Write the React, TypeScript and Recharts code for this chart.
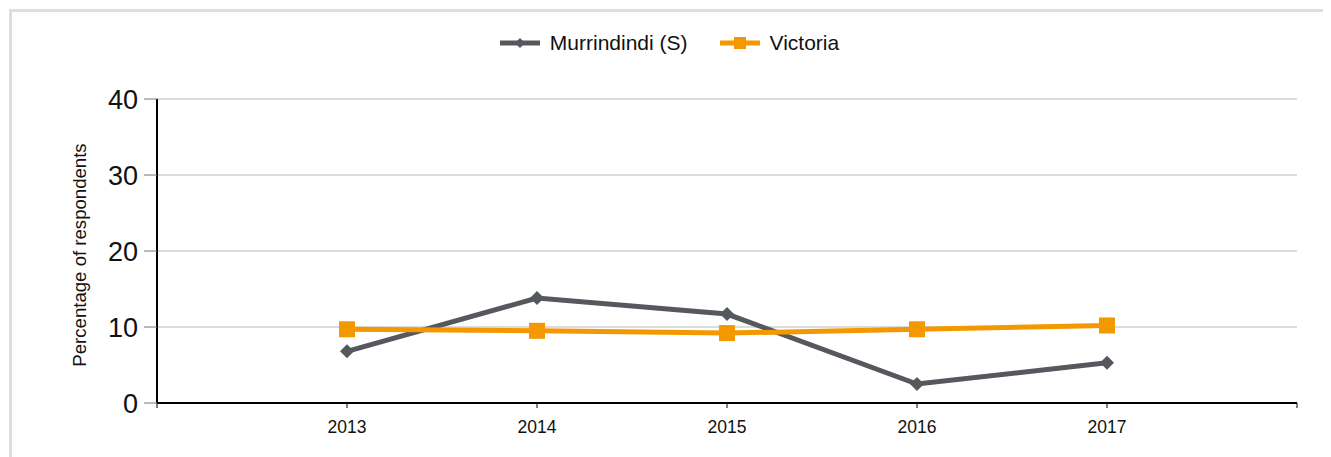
import { LineChart, Line, XAxis, YAxis, CartesianGrid, Legend } from 'recharts'

const years = [2013, 2014, 2015, 2016, 2017]
const murrindindi = [6.8, 13.8, 11.7, 2.5, 5.3]
const victoria = [9.7, 9.5, 9.2, 9.7, 10.2]
const yTicks = [0, 10, 20, 30, 40]
const xTicks = [2012, 2013, 2014, 2015, 2016, 2017, 2018]

const GREY = '#55585c'
const ORANGE = '#f39800'
const FONT = '"Liberation Sans", Arial, sans-serif'

const data = years.map((year, i) => ({
  year,
  murrindindi: murrindindi[i],
  victoria: victoria[i],
}))

const Diamond = (props: any) => {
  const { cx, cy, index } = props
  if (cx == null || cy == null) return <g key={`d-${index}`} />
  const r = 7
  return (
    <path
      key={`d-${index}`}
      d={`M${cx},${cy - r} L${cx + r},${cy} L${cx},${cy + r} L${cx - r},${cy} Z`}
      fill={GREY}
    />
  )
}

const Square = (props: any) => {
  const { cx, cy, index } = props
  if (cx == null || cy == null) return <g key={`s-${index}`} />
  const s = 16
  return <rect key={`s-${index}`} x={cx - s / 2} y={cy - s / 2} width={s} height={s} fill={ORANGE} />
}

const legendItems = [
  { name: 'Murrindindi (S)', color: GREY, shape: 'diamond' },
  { name: 'Victoria', color: ORANGE, shape: 'square' },
]

const LegendContent = () => (
  <div style={{ height: 71, display: 'flex', justifyContent: 'center', alignItems: 'flex-start', paddingLeft: 30 }}>
    {legendItems.map((item) => (
      <div key={item.name} style={{ display: 'flex', alignItems: 'center', height: 30, margin: '0 16px' }}>
        <svg width={40} height={16} style={{ marginRight: 10 }}>
          <line x1={0} y1={8} x2={40} y2={8} stroke={item.color} strokeWidth={5} />
          {item.shape === 'diamond' ? (
            <path d="M20,3 L25,8 L20,13 L15,8 Z" fill={item.color} />
          ) : (
            <rect x={14} y={2} width={12} height={12} fill={item.color} />
          )}
        </svg>
        <span style={{ fontSize: 21, color: '#111', fontFamily: FONT }}>{item.name}</span>
      </div>
    ))}
  </div>
)

const YLabel = () => (
  <text
    x={74}
    y={243}
    transform="rotate(-90, 74, 243)"
    textAnchor="middle"
    fontSize={18.6}
    fill="#111"
    fontFamily={FONT}
  >
    Percentage of respondents
  </text>
)

export default function App() {
  return (
    <div style={{ width: 1320, height: 446, border: '3px solid #dedede', marginLeft: 1, marginTop: 1, background: '#fff' }}>
      <LineChart
        width={1320}
        height={446}
        data={data}
        margin={{ top: 16, right: 35, left: 0, bottom: 25 }}
        style={{ fontFamily: FONT }}
      >
        <Legend verticalAlign="top" align="center" content={<LegendContent />} />
        <CartesianGrid vertical={false} stroke="#dcdcdc" strokeWidth={2} />
        <XAxis
          dataKey="year"
          type="number"
          domain={[2012, 2018]}
          ticks={xTicks}
          tickFormatter={(v: number) => (v === 2012 || v === 2018 ? '' : String(v))}
          axisLine={{ stroke: '#000', strokeWidth: 2 }}
          tickLine={{ stroke: '#000', strokeWidth: 1 }}
          tickSize={5}
          tickMargin={13}
          tick={{ fill: '#111', fontSize: 17.5 }}
          height={30}
        />
        <YAxis
          domain={[0, 40]}
          ticks={yTicks}
          width={145}
          axisLine={{ stroke: '#000', strokeWidth: 2 }}
          tickLine={{ stroke: '#777', strokeWidth: 1 }}
          tickSize={13}
          tickMargin={6}
          tick={{ fill: '#111', fontSize: 27 }}
          label={{ content: () => <YLabel /> }}
        />
        <Line
          type="linear"
          dataKey="murrindindi"
          name="Murrindindi (S)"
          stroke={GREY}
          strokeWidth={5}
          dot={Diamond}
          activeDot={false}
          isAnimationActive={false}
        />
        <Line
          type="linear"
          dataKey="victoria"
          name="Victoria"
          stroke={ORANGE}
          strokeWidth={5}
          dot={Square}
          activeDot={false}
          isAnimationActive={false}
        />
      </LineChart>
    </div>
  )
}
